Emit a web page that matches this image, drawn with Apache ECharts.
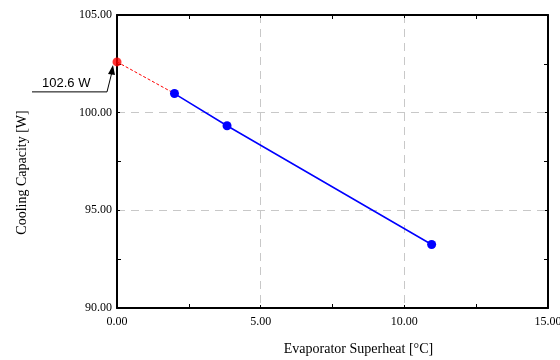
<!DOCTYPE html>
<html>
<head>
<meta charset="utf-8">
<script src="https://cdn.jsdelivr.net/npm/echarts@6/dist/echarts.min.js"></script>
<style>
  html, body { margin: 0; padding: 0; background: #fff; }
  #chart { width: 560px; height: 360px; }
</style>
</head>
<body>
<div id="chart"></div>
<script>
// measured points (superheat °C, capacity W)
var superheat = [2.0, 3.83, 10.95];
var capacity = [100.98, 99.33, 93.25];
// extrapolated value at zero superheat
var extraX = 0;
var extraY = 102.6;
var annotText = '102.6 W';

var serif = 'Liberation Serif';
var blueData = superheat.map(function (x, i) { return [x, capacity[i]]; });
var redData = [[extraX, extraY], [superheat[0], capacity[0]]];

var chart = echarts.init(document.getElementById('chart'));

var gridStyle = { show: true, lineStyle: { color: '#c8c8c8', type: [8, 6], width: 1 } };
var frameLine = { show: true, onZero: false, lineStyle: { color: '#000', width: 2 } };
var innerTick = { show: true, inside: true, length: 3, lineStyle: { color: '#000' } };
var innerMinor = { show: true, splitNumber: 2, length: 4, lineStyle: { color: '#000' } };

var option = {
    backgroundColor: '#fff',
    animation: false,
    grid: { left: 117, top: 15, width: 431, height: 293, outerBoundsMode: 'none', containLabel: false },
    xAxis: [{
        type: 'value',
        min: 0, max: 15, interval: 5,
        position: 'bottom',
        name: 'Evaporator Superheat [°C]',
        nameLocation: 'middle',
        nameGap: 34,
        nameTextStyle: { fontFamily: serif, fontSize: 14, color: '#000', padding: [0, 0, 0, 52] },
        axisLine: frameLine,
        axisTick: innerTick,
        minorTick: innerMinor,
        axisLabel: {
            fontFamily: serif, fontSize: 12, color: '#000', margin: 8,
            formatter: function (v) { return v.toFixed(2); }
        },
        splitLine: gridStyle
    }, {
        type: 'value',
        min: 0, max: 15, interval: 5,
        position: 'top',
        axisLine: frameLine,
        axisTick: innerTick,
        minorTick: innerMinor,
        axisLabel: { show: false },
        splitLine: { show: false }
    }],
    yAxis: [{
        type: 'value',
        min: 90, max: 105, interval: 5,
        position: 'left',
        name: 'Cooling Capacity [W]',
        nameLocation: 'middle',
        nameGap: 88,
        nameTextStyle: { fontFamily: serif, fontSize: 14, color: '#000', padding: [0, 22, 0, 0] },
        axisLine: frameLine,
        axisTick: innerTick,
        minorTick: innerMinor,
        axisLabel: {
            fontFamily: serif, fontSize: 12, color: '#000', margin: 5,
            formatter: function (v) { return v.toFixed(2); }
        },
        splitLine: gridStyle
    }, {
        type: 'value',
        min: 90, max: 105, interval: 5,
        position: 'right',
        axisLine: frameLine,
        axisTick: innerTick,
        minorTick: innerMinor,
        axisLabel: { show: false },
        splitLine: { show: false }
    }],
    series: [{
        type: 'line',
        data: redData,
        symbol: 'none',
        lineStyle: { color: '#ff0000', width: 1, type: [3, 2] },
        z: 2
    }, {
        type: 'line',
        data: blueData,
        symbol: 'circle',
        symbolSize: 9,
        itemStyle: { color: '#0000ff' },
        lineStyle: { color: '#0000ff', width: 1.5 },
        z: 3
    }, {
        type: 'scatter',
        data: [[extraX, extraY]],
        symbol: 'circle',
        symbolSize: 9,
        itemStyle: { color: '#ff0000' },
        z: 4
    }]
};

chart.setOption(option);

// leader line with arrow pointing to the extrapolated point
var p = chart.convertToPixel({ xAxisIndex: 0, yAxisIndex: 0 }, [extraX, extraY]);
chart.setOption({
    graphic: [{
        type: 'polyline',
        shape: { points: [[p[0] - 85, p[1] + 30], [p[0] - 10, p[1] + 30], [p[0] - 5, p[1] + 10]] },
        style: { stroke: '#000', lineWidth: 1, fill: null },
        z: 10
    }, {
        type: 'polygon',
        shape: { points: [[p[0] - 4, p[1] + 3], [p[0] - 9, p[1] + 12], [p[0] - 2, p[1] + 13]] },
        style: { fill: '#000' },
        z: 10
    }, {
        type: 'text',
        x: p[0] - 75, y: p[1] + 28,
        style: {
            text: annotText, fontFamily: 'Liberation Sans', fontSize: 13,
            fill: '#000', textVerticalAlign: 'bottom'
        },
        z: 10
    }]
});
</script>
</body>
</html>
